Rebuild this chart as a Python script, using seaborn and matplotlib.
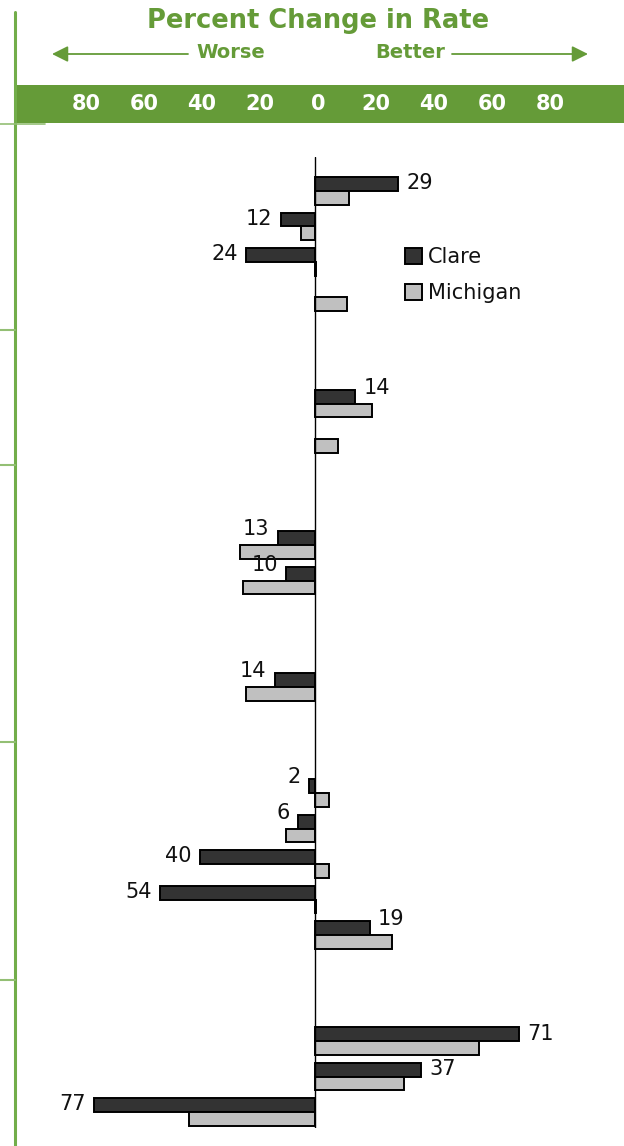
import matplotlib
matplotlib.use("Agg")
import matplotlib.pyplot as plt
import matplotlib.transforms as mtransforms
from matplotlib.lines import Line2D
from matplotlib.patches import Patch
import seaborn as sns
import pandas as pd

# ---------------- data ----------------
indicators = [f"Indicator {i + 1}" for i in range(27)]
clare = [29, -12, -24, None, None, None, 14, None, None, None, -13, -10, None, None,
         -14, None, None, -2, -6, -40, -54, 19, None, None, 71, 37, -77]
michigan = [12, -5, 0.5, 11, None, None, 20, 8, None, None, -26, -25, None, None,
            -24, None, None, 5, -10, 5, 0.5, 27, None, None, 57, 31, -44]
series_names = ["Clare", "Michigan"]
header_tick_values = [-80, -60, -40, -20, 0, 20, 40, 60, 80]
header_tick_labels = ["80", "60", "40", "20", "0", "20", "40", "60", "80"]

rows = []
for name, vals in zip(series_names, [clare, michigan]):
    for ind, v in zip(indicators, vals):
        if v is not None:
            rows.append({"indicator": ind, "area": name, "value": v})
df = pd.DataFrame(rows)

# ---------------- style ----------------
GREEN = "#659B38"
LINE_GREEN = "#72AD4A"
SEP_GREEN = "#93BF74"
COLORS = {"Clare": "#333333", "Michigan": "#C0C0C0"}
W, H = 624, 1146

sns.set_theme(style="white")
plt.rcParams["font.family"] = ["DejaVu Sans"]

fig = plt.figure(figsize=(W / 100, H / 100), dpi=100)


def fx(px):
    return px / W


def fy(py):
    return 1 - py / H


# ---------------- main bar axes ----------------
ax = fig.add_axes([fx(15), fy(1128), fx(624) - fx(15), fy(157) - fy(1128)])
sns.barplot(data=df, y="indicator", x="value", hue="area", order=indicators,
            hue_order=series_names, palette=COLORS, orient="h", width=0.78,
            errorbar=None, saturation=1, edgecolor="black", linewidth=1.4,
            legend=False, ax=ax)
ax.set_xlim((15 - 315) / 2.87, (624 - 315) / 2.87)
ax.set_ylim(26.45, -0.96)
ax.axvline(0, color="black", lw=1.0, zorder=5)
for s in ax.spines.values():
    s.set_visible(False)
ax.set_xticks([])
ax.set_yticks([])
ax.set_xlabel("")
ax.set_ylabel("")
ax.patch.set_alpha(0)

# value labels for Clare
for i, (c, m) in enumerate(zip(clare, michigan)):
    if c is None:
        continue
    dy = 6.5 if (m is not None and abs(m) > abs(c)) else 0.5
    sign = 1 if c >= 0 else -1
    ax.annotate(f"{abs(c):.0f}", xy=(c, i - 0.195), xytext=(sign * 6.0, dy),
                textcoords="offset points", ha="left" if sign > 0 else "right",
                va="center", fontsize=15, color="#111111")

# legend
handles = [Patch(facecolor=COLORS[n], edgecolor="black", linewidth=1.4) for n in series_names]
leg = fig.legend(handles, series_names, loc="upper left",
                 bbox_to_anchor=(fx(401), fy(243)), frameon=False, fontsize=15,
                 handlelength=0.8, handleheight=0.8, handletextpad=0.3,
                 labelspacing=0.75, borderpad=0.2, borderaxespad=0)
for t in leg.get_texts():
    t.set_color("#111111")

# ---------------- header ----------------
band = fig.add_axes([fx(15), fy(123), fx(624) - fx(15), fy(85) - fy(123)])
band.set_facecolor(GREEN)
band.set_xlim((15 - 318) / 2.9, (624 - 318) / 2.9)
band.set_ylim(0, 1)
band.set_xticks([])
band.set_yticks([])
for s in band.spines.values():
    s.set_visible(False)
trans = mtransforms.blended_transform_factory(band.transData, band.transAxes)
for v, lbl in zip(header_tick_values, header_tick_labels):
    band.text(v, 0.5, lbl, transform=trans, ha="center", va="center",
              color="white", fontsize=15, fontweight="bold")

fig.text(fx(318), fy(21), "Percent Change in Rate", ha="center", va="center",
         fontsize=18.5, fontweight="bold", color=GREEN)
fig.text(fx(231), fy(52), "Worse", ha="center", va="center",
         fontsize=14, fontweight="bold", color=GREEN)
fig.text(fx(410), fy(52), "Better", ha="center", va="center",
         fontsize=14, fontweight="bold", color=GREEN)
arrowprops = dict(arrowstyle="-|>,head_length=0.8,head_width=0.4", color=GREEN,
                  lw=1.3, shrinkA=0, shrinkB=0)
fig.add_artist(plt.Annotation("", xy=(fx(52), fy(54)), xytext=(fx(188), fy(54)),
                              xycoords="figure fraction", textcoords="figure fraction",
                              arrowprops=arrowprops))
fig.add_artist(plt.Annotation("", xy=(fx(588), fy(54)), xytext=(fx(452), fy(54)),
                              xycoords="figure fraction", textcoords="figure fraction",
                              arrowprops=arrowprops))

# left frame line and section separators
fig.add_artist(Line2D([fx(14.5), fx(14.5)], [0, fy(12)], color=LINE_GREEN, lw=2.2))
fig.add_artist(Line2D([0, fx(45)], [fy(124), fy(124)], color=SEP_GREEN, lw=1.2))
for ysep in [330, 465, 742, 980]:
    fig.add_artist(Line2D([0, fx(15)], [fy(ysep), fy(ysep)], color=SEP_GREEN, lw=1.5))

fig.savefig("out.png", dpi=100)
